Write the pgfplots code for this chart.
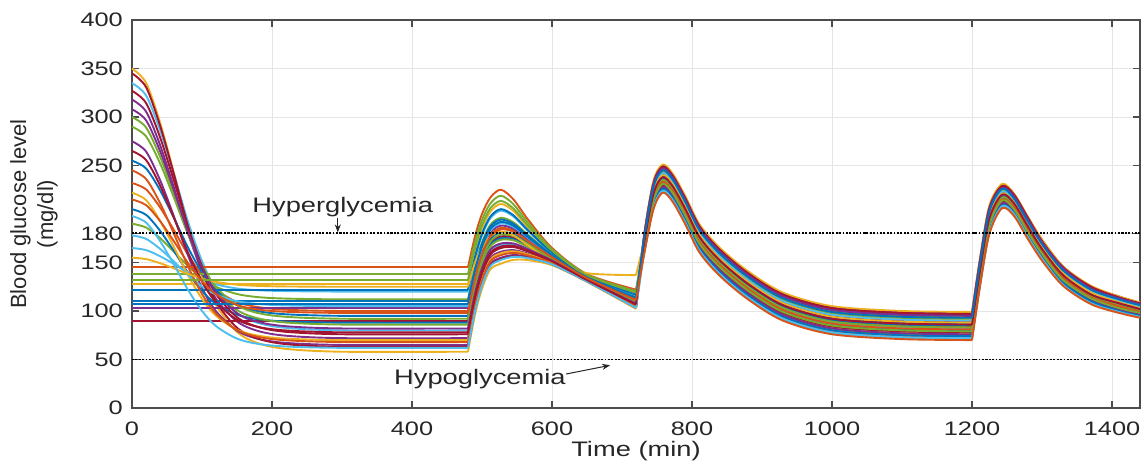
\documentclass[border=0pt]{standalone}
\usepackage{pgfplots}
\pgfplotsset{compat=1.18}
\usepackage{fontspec}
\setmainfont{Liberation Sans}[FakeStretch=1.3]
\newfontfamily\ylfont{Liberation Sans}
\usetikzlibrary{arrows.meta}
\definecolor{c1}{RGB}{0,114,189}
\definecolor{c2}{RGB}{217,83,25}
\definecolor{c3}{RGB}{237,177,32}
\definecolor{c4}{RGB}{126,47,142}
\definecolor{c5}{RGB}{119,172,48}
\definecolor{c6}{RGB}{77,190,238}
\definecolor{c7}{RGB}{162,20,47}
\newcommand\patient[2]{%
 \addplot[#1, restrict x to domain=0:480.01] table[row sep=\\]{#2};
 \addplot[#1, restrict x to domain=479.99:720.01] table[row sep=\\]{#2};
 \addplot[#1, restrict x to domain=719.99:1200.01] table[row sep=\\]{#2};
 \addplot[#1, restrict x to domain=1199.99:1440] table[row sep=\\]{#2};
}
\begin{document}
\begin{tikzpicture}
\begin{axis}[name=ax,
 width=1008pt, height=388pt, scale only axis,
 xmin=0, xmax=1440, ymin=0, ymax=400,
 xtick={0,200,...,1400}, ytick={0,50,100,150,180,250,300,350,400},
 tick align=inside, tick pos=both, major tick length=7pt,
 grid=major, grid style={draw=black!10, line width=0.8pt},
 axis line style={draw=black!70, line width=1.3pt},
 every tick/.style={draw=black!70, line width=1.3pt},
 /pgf/number format/assume math mode=true,
 /pgf/number format/1000 sep={},
 ticklabel style={font=\fontsize{19.5}{19.5}\selectfont, text=black!85},
 yticklabel style={inner sep=0pt, xshift=-9pt},
 xticklabel style={inner sep=0pt, yshift=-14pt},
 xlabel={Time (min)},
 xlabel style={at={(axis description cs:0.5,-0.112)}, anchor=center, font=\fontsize{21}{21}\selectfont, text=black!85},
 ylabel={Blood glucose level\\(mg/dl)},
 ylabel style={at={(axis description cs:-0.0972,0.5)}, anchor=center, align=center, font=\ylfont\fontsize{22}{27}\selectfont, text=black!85},
 every axis plot/.append style={line width=1.9pt, smooth, line join=round},
]
\patient{c3}{0 350\\20 335.4\\40 294.5\\60 242\\80 186.5\\100 139.8\\120 106.2\\150 78.4\\180 66.8\\220 60.9\\300 58\\480 58\\490 96\\500 123\\512 143\\527 148.8\\545 152.7\\565 152.5\\600 147.2\\650 130.1\\720 102.2\\732 165\\745 212\\758 229\\772 220\\790 197\\811 167\\840 143\\880 119\\930 97\\1000 83\\1100 78\\1200 77\\1212 135\\1225 187\\1243 212\\1260 204\\1280 180\\1300 157\\1330 131\\1370 112\\1410 102\\1440 97\\}
\patient{c2}{0 232\\20 225.4\\40 206.9\\60 183.2\\80 158.1\\100 137\\120 121.8\\150 109.2\\180 104\\220 101.3\\300 100\\480 100\\490 135.1\\500 160.1\\512 178.6\\527 185.7\\545 182.9\\565 173.1\\600 155.8\\650 133.9\\720 111.8\\732 170\\745 219\\758 236\\772 227\\790 204\\811 174\\840 150\\880 126\\930 104\\1000 90\\1100 85\\1200 84\\1212 142\\1225 194\\1243 218\\1260 209\\1280 185\\1300 163\\1330 136\\1370 116\\1410 106\\1440 101\\}
\patient{c3}{0 128\\480 128\\490 161.1\\500 184.9\\512 202.5\\527 210.4\\545 203\\565 186.8\\600 161.6\\650 136.5\\720 118.2\\732 175\\745 226\\758 243\\772 234\\790 211\\811 181\\840 157\\880 133\\930 111\\1000 97\\1100 92\\1200 91\\1212 149\\1225 201\\1243 224\\1260 215\\1280 191\\1300 168\\1330 141\\1370 121\\1410 111\\1440 105\\}
\patient{c4}{0 318\\20 305.7\\40 271.3\\60 227\\80 180.2\\100 140.9\\120 112.6\\150 89.2\\180 79.4\\220 74.5\\300 72\\480 72\\490 109\\500 135.3\\512 154.8\\527 161.1\\545 162.7\\565 159.3\\600 150.1\\650 131.4\\720 105.4\\732 180\\745 233\\758 250\\772 241\\790 218\\811 188\\840 164\\880 140\\930 118\\1000 104\\1100 99\\1200 98\\1212 156\\1225 208\\1243 230\\1260 220\\1280 196\\1300 173\\1330 146\\1370 125\\1410 115\\1440 108\\}
\patient{c5}{0 190\\20 186.1\\40 175.2\\60 161.1\\80 146.3\\100 133.8\\120 124.9\\150 117.5\\180 114.3\\220 112.8\\300 112\\480 112\\490 146.3\\500 170.8\\512 188.9\\527 196.1\\545 191.4\\565 178.9\\600 158.3\\650 135\\720 114.5\\732 164\\745 210\\758 227\\772 218\\790 195\\811 165\\840 141\\880 117\\930 95\\1000 81\\1100 76\\1200 75\\1212 133\\1225 185\\1243 210\\1260 202\\1280 178\\1300 156\\1330 130\\1370 110\\1410 101\\1440 96\\}
\patient{c6}{0 335\\20 322.3\\40 286.6\\60 240.7\\80 192.2\\100 151.4\\120 122.1\\150 97.9\\180 87.7\\220 82.6\\300 80\\480 80\\490 116.4\\500 142.4\\512 161.6\\527 168\\545 168.4\\565 163.2\\600 151.7\\650 132.1\\720 107.2\\732 168\\745 217\\758 234\\772 225\\790 202\\811 172\\840 148\\880 124\\930 102\\1000 88\\1100 83\\1200 82\\1212 140\\1225 192\\1243 216\\1260 208\\1280 184\\1300 161\\1330 134\\1370 115\\1410 105\\1440 100\\}
\patient{c7}{0 90\\480 90\\490 125.8\\500 151.3\\512 170.1\\527 176.9\\545 175.6\\565 168.1\\600 153.8\\650 133\\720 109.5\\732 173\\745 224\\758 241\\772 232\\790 209\\811 179\\840 155\\880 131\\930 109\\1000 95\\1100 90\\1200 89\\1212 147\\1225 199\\1243 222\\1260 213\\1280 189\\1300 166\\1330 139\\1370 119\\1410 109\\1440 103\\}
\patient{c4}{0 275\\20 264.5\\40 235.1\\60 197.3\\80 157.4\\100 123.8\\120 99.7\\150 79.7\\180 71.3\\220 67.1\\300 65\\480 65\\490 102.5\\500 129.1\\512 148.8\\527 154.9\\545 157.7\\565 155.9\\600 148.6\\650 130.7\\720 103.8\\732 178\\745 231\\758 248\\772 239\\790 216\\811 186\\840 162\\880 138\\930 116\\1000 102\\1100 97\\1200 96\\1212 154\\1225 206\\1243 228\\1260 219\\1280 195\\1300 172\\1330 144\\1370 124\\1410 114\\1440 107\\}
\patient{c2}{0 145\\480 145\\490 177\\500 200\\512 217\\527 225\\545 215\\565 195\\600 165\\650 138\\720 122\\732 162\\745 208\\758 225\\772 216\\790 193\\811 163\\840 139\\880 115\\930 93\\1000 79\\1100 74\\1200 73\\1212 131\\1225 183\\1243 209\\1260 200\\1280 176\\1300 154\\1330 128\\1370 109\\1410 100\\1440 95\\}
\patient{c1}{0 205\\20 199.2\\40 182.8\\60 161.7\\80 139.5\\100 120.8\\120 107.3\\150 96.2\\180 91.5\\220 89.2\\300 88\\480 88\\490 123.9\\500 149.5\\512 168.4\\527 175\\545 174\\565 167\\600 153.3\\650 132.8\\720 109\\732 167\\745 215\\758 232\\772 223\\790 200\\811 170\\840 146\\880 122\\930 100\\1000 86\\1100 81\\1200 80\\1212 138\\1225 190\\1243 215\\1260 206\\1280 182\\1300 160\\1330 133\\1370 114\\1410 104\\1440 99\\}
\patient{c1}{0 110\\480 110\\490 144.4\\500 169\\512 187.2\\527 194.2\\545 189.8\\565 177.8\\600 157.8\\650 134.8\\720 114\\732 172\\745 222\\758 239\\772 230\\790 207\\811 177\\840 153\\880 129\\930 107\\1000 93\\1100 88\\1200 87\\1212 145\\1225 197\\1243 220\\1260 212\\1280 188\\1300 165\\1330 138\\1370 118\\1410 108\\1440 102\\}
\patient{c5}{0 300\\20 289.3\\40 259.3\\60 220.8\\80 180.2\\100 145.9\\120 121.3\\150 101\\180 92.4\\220 88.1\\300 86\\480 86\\490 122\\500 147.7\\512 166.7\\527 173.4\\545 172.8\\565 166.2\\600 152.9\\650 132.6\\720 108.6\\732 177\\745 229\\758 246\\772 237\\790 214\\811 184\\840 160\\880 136\\930 114\\1000 100\\1100 95\\1200 94\\1212 152\\1225 204\\1243 226\\1260 217\\1280 193\\1300 170\\1330 143\\1370 123\\1410 112\\1440 106\\}
\patient{c6}{0 165\\20 162.8\\40 156.5\\60 148.4\\80 139.8\\100 132.6\\120 127.4\\150 123.2\\180 121.4\\220 120.5\\300 120\\480 120\\490 153.7\\500 177.8\\512 195.6\\527 203.4\\545 197.4\\565 183\\600 160\\650 135.8\\720 116.4\\732 161\\745 206\\758 223\\772 214\\790 191\\811 161\\840 137\\880 113\\930 91\\1000 77\\1100 72\\1200 71\\1212 129\\1225 181\\1243 207\\1260 199\\1280 175\\1300 153\\1330 127\\1370 108\\1410 99\\1440 94\\}
\patient{c7}{0 345\\20 330.9\\40 291.4\\60 240.7\\80 187.1\\100 142\\120 109.5\\150 82.7\\180 71.5\\220 65.8\\300 63\\480 63\\490 100.6\\500 127.3\\512 147.1\\527 153.4\\545 156.4\\565 155\\600 148.3\\650 130.6\\720 103.4\\732 166\\745 213\\758 230\\772 221\\790 198\\811 168\\840 144\\880 120\\930 98\\1000 84\\1100 79\\1200 78\\1212 136\\1225 188\\1243 213\\1260 204\\1280 180\\1300 158\\1330 132\\1370 112\\1410 103\\1440 97\\}
\patient{c1}{0 255\\20 247\\40 224.6\\60 195.8\\80 165.4\\100 139.8\\120 121.4\\150 106.2\\180 99.8\\220 96.6\\300 95\\480 95\\490 130.4\\500 155.7\\512 174.4\\527 181.1\\545 179.1\\565 170.5\\600 154.7\\650 133.4\\720 110.6\\732 171\\745 220\\758 237\\772 228\\790 205\\811 175\\840 151\\880 127\\930 105\\1000 91\\1100 86\\1200 85\\1212 143\\1225 195\\1243 219\\1260 210\\1280 186\\1300 163\\1330 137\\1370 117\\1410 107\\1440 101\\}
\patient{c5}{0 138\\480 138\\490 170.5\\500 193.8\\512 211\\527 218.8\\545 210\\565 191.6\\600 163.6\\650 137.4\\720 120.4\\732 175\\745 227\\758 244\\772 235\\790 212\\811 182\\840 158\\880 134\\930 112\\1000 98\\1100 93\\1200 92\\1212 150\\1225 202\\1243 225\\1260 216\\1280 192\\1300 169\\1330 141\\1370 121\\1410 111\\1440 105\\}
\patient{c3}{0 222\\20 214.4\\40 193.1\\60 165.8\\80 136.9\\100 112.6\\120 95.1\\150 80.6\\180 74.6\\220 71.5\\300 70\\480 70\\490 107.1\\500 133.5\\512 153\\527 159.6\\545 161.5\\565 158.5\\600 149.7\\650 131.2\\720 105\\732 180\\745 234\\758 251\\772 242\\790 219\\811 189\\840 165\\880 141\\930 119\\1000 105\\1100 100\\1200 99\\1212 157\\1225 209\\1243 231\\1260 221\\1280 197\\1300 174\\1330 146\\1370 126\\1410 115\\1440 109\\}
\patient{c4}{0 103\\480 103\\490 137.9\\500 162.8\\512 181.2\\527 188\\545 184.8\\565 174.4\\600 156.4\\650 134.2\\720 112.4\\732 164\\745 211\\758 228\\772 219\\790 196\\811 166\\840 142\\880 118\\930 96\\1000 82\\1100 77\\1200 76\\1212 134\\1225 186\\1243 211\\1260 203\\1280 179\\1300 157\\1330 130\\1370 111\\1410 102\\1440 96\\}
\patient{c5}{0 290\\20 280.1\\40 252.4\\60 216.7\\80 179.1\\100 147.4\\120 124.7\\150 105.9\\180 97.9\\220 94\\300 92\\480 92\\490 127.6\\500 153\\512 171.8\\527 178.8\\545 177.2\\565 169.2\\600 154.2\\650 133.2\\720 110\\732 169\\745 218\\758 235\\772 226\\790 203\\811 173\\840 149\\880 125\\930 103\\1000 89\\1100 84\\1200 83\\1212 141\\1225 193\\1243 217\\1260 208\\1280 184\\1300 162\\1330 135\\1370 115\\1410 106\\1440 100\\}
\patient{c6}{0 178\\20 174.4\\40 164.1\\60 151\\80 137.1\\100 125.4\\120 117\\150 110.1\\180 107.2\\220 105.7\\300 105\\480 105\\490 139.7\\500 164.5\\512 182.8\\527 190.4\\545 186.7\\565 175.7\\600 156.9\\650 134.4\\720 113\\732 174\\745 225\\758 242\\772 233\\790 210\\811 180\\840 156\\880 132\\930 110\\1000 96\\1100 91\\1200 90\\1212 148\\1225 200\\1243 223\\1260 214\\1280 190\\1300 167\\1330 140\\1370 120\\1410 110\\1440 104\\}
\patient{c7}{0 327\\20 314.5\\40 279.3\\60 234.1\\80 186.4\\100 146.3\\120 117.4\\150 93.6\\180 83.5\\220 78.5\\300 76\\480 76\\490 112.7\\500 138.8\\512 158.1\\527 164.9\\545 165.9\\565 161.5\\600 151\\650 131.8\\720 106.4\\732 179\\745 232\\758 249\\772 240\\790 217\\811 187\\840 163\\880 139\\930 117\\1000 103\\1100 98\\1200 97\\1212 155\\1225 207\\1243 229\\1260 220\\1280 196\\1300 172\\1330 145\\1370 125\\1410 114\\1440 108\\}
\patient{c1}{0 122\\480 122\\490 155.6\\500 179.6\\512 197.4\\527 205\\545 198.6\\565 183.8\\600 160.3\\650 135.9\\720 116.8\\732 163\\745 209\\758 226\\772 217\\790 194\\811 164\\840 140\\880 116\\930 94\\1000 80\\1100 75\\1200 74\\1212 132\\1225 184\\1243 209\\1260 201\\1280 177\\1300 155\\1330 129\\1370 110\\1410 100\\1440 95\\}
\patient{c2}{0 245\\20 236.2\\40 211.4\\60 179.5\\80 145.9\\100 117.6\\120 97.2\\150 80.4\\180 73.3\\220 69.8\\300 68\\480 68\\490 105.3\\500 131.8\\512 151.4\\527 157.6\\545 159.9\\565 157.4\\600 149.3\\650 131\\720 104.5\\732 168\\745 216\\758 233\\772 224\\790 201\\811 171\\840 147\\880 123\\930 101\\1000 87\\1100 82\\1200 81\\1212 139\\1225 191\\1243 215\\1260 207\\1280 183\\1300 160\\1330 134\\1370 114\\1410 105\\1440 99\\}
\patient{c3}{0 155\\20 153.5\\40 149.3\\60 143.9\\80 138.2\\100 133.4\\120 130\\150 127.1\\180 125.9\\220 125.3\\300 125\\480 125\\490 150\\500 165\\512 177\\527 182\\545 178\\565 168\\600 151\\650 139\\720 137\\732 173\\745 223\\758 240\\772 231\\790 208\\811 178\\840 154\\880 130\\930 108\\1000 94\\1100 89\\1200 88\\1212 146\\1225 198\\1243 221\\1260 212\\1280 188\\1300 166\\1330 139\\1370 119\\1410 109\\1440 103\\}
\patient{c4}{0 308\\20 296.7\\40 265.1\\60 224.4\\80 181.4\\100 145.3\\120 119.3\\150 97.8\\180 88.8\\220 84.3\\300 82\\480 82\\490 118.3\\500 144.2\\512 163.4\\527 169.6\\545 169.6\\565 164\\600 152\\650 132.2\\720 107.6\\732 178\\745 230\\758 247\\772 238\\790 215\\811 185\\840 161\\880 137\\930 115\\1000 101\\1100 96\\1200 95\\1212 153\\1225 205\\1243 227\\1260 218\\1280 194\\1300 171\\1330 144\\1370 123\\1410 113\\1440 107\\}
\patient{c6}{0 198\\20 191.2\\40 172.2\\60 147.7\\80 121.8\\100 100.1\\120 84.4\\150 71.5\\180 66.1\\220 63.4\\300 62\\480 62\\490 99.6\\500 126.4\\512 146.2\\527 152.6\\545 155.8\\565 154.6\\600 148.1\\650 130.5\\720 103.2\\732 161\\745 207\\758 224\\772 215\\790 192\\811 162\\840 138\\880 114\\930 92\\1000 78\\1100 73\\1200 72\\1212 130\\1225 182\\1243 208\\1260 200\\1280 176\\1300 154\\1330 127\\1370 108\\1410 99\\1440 94\\}
\patient{c5}{0 132\\480 132\\490 164.9\\500 188.5\\512 206\\527 213.5\\545 205.6\\565 188.6\\600 162.3\\650 136.8\\720 119\\732 166\\745 214\\758 231\\772 222\\790 199\\811 169\\840 145\\880 121\\930 99\\1000 85\\1100 80\\1200 79\\1212 137\\1225 189\\1243 214\\1260 205\\1280 181\\1300 159\\1330 132\\1370 113\\1410 103\\1440 98\\}
\patient{c7}{0 265\\20 255.7\\40 229.5\\60 195.8\\80 160.3\\100 130.4\\120 108.9\\150 91.1\\180 83.6\\220 79.9\\300 78\\480 78\\490 114.6\\500 140.6\\512 159.9\\527 166.5\\545 167.1\\565 162.3\\600 151.3\\650 131.9\\720 106.8\\732 171\\745 221\\758 238\\772 229\\790 206\\811 176\\840 152\\880 128\\930 106\\1000 92\\1100 87\\1200 86\\1212 144\\1225 196\\1243 220\\1260 211\\1280 187\\1300 164\\1330 137\\1370 117\\1410 108\\1440 102\\}
\patient{c1}{0 107\\480 107\\490 141.6\\500 166.3\\512 184.6\\527 191.9\\545 187.9\\565 176.5\\600 157.3\\650 134.6\\720 113.4\\732 176\\745 228\\758 245\\772 236\\790 213\\811 183\\840 159\\880 135\\930 113\\1000 99\\1100 94\\1200 93\\1212 151\\1225 203\\1243 226\\1260 216\\1280 192\\1300 169\\1330 142\\1370 122\\1410 112\\1440 106\\}
\patient{c2}{0 215\\20 209.2\\40 192.8\\60 171.7\\80 149.5\\100 130.8\\120 117.3\\150 106.2\\180 101.5\\220 99.2\\300 98\\480 98\\490 133.2\\500 158.3\\512 176.9\\527 184.2\\545 181.6\\565 172.2\\600 155.5\\650 133.8\\720 111.4\\732 160\\745 205\\758 222\\772 213\\790 190\\811 160\\840 136\\880 112\\930 90\\1000 76\\1100 71\\1200 70\\1212 128\\1225 180\\1243 206\\1260 198\\1280 174\\1300 152\\1330 126\\1370 107\\1410 98\\1440 93\\}
\addplot[black, line width=1.8pt, dash pattern=on 1.8pt off 1.6pt] coordinates {(0,180) (1440,180)};
\addplot[black, line width=1.8pt, dash pattern=on 1.8pt off 1.6pt] coordinates {(0,50) (1440,50)};
\node[anchor=base, font=\fontsize{21}{21}\selectfont, text=black!85] at (axis cs:301,202) {Hyperglycemia};
\draw[-{Stealth[length=8pt,width=6pt]}, line width=1pt, black!85] (axis cs:294,196) -- (axis cs:294,181);
\node[anchor=base, font=\fontsize{21}{21}\selectfont, text=black!85] at (axis cs:497,23.7) {Hypoglycemia};
\draw[-{Stealth[length=8pt,width=6pt]}, line width=1pt, black!85] (axis cs:620,35) -- (axis cs:683,44);
\end{axis}
\pgfresetboundingbox
\path ([shift={(-132pt,-61pt)}]ax.south west) rectangle ([shift={(4pt,20pt)}]ax.north east);
\end{tikzpicture}
\end{document}
